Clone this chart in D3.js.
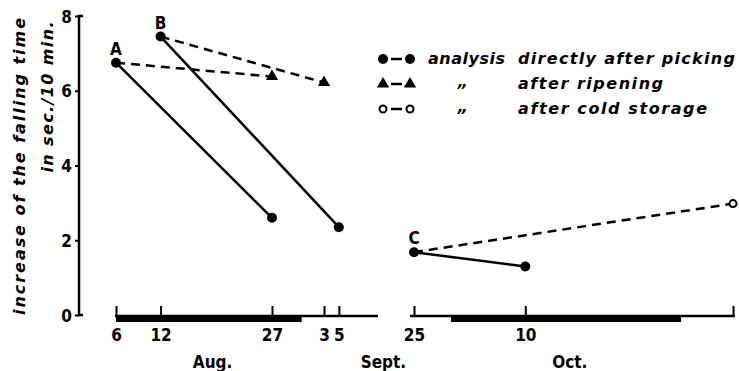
<!DOCTYPE html>
<html>
<head>
<meta charset="utf-8">
<script src="https://cdn.jsdelivr.net/npm/d3@7"></script>
<style>
  body { margin: 0; background: #fff; }
  svg { display: block; }
  text { font-family: "DejaVu Sans", sans-serif; font-weight: bold; fill: #000; }
  .cond { font-family: "DejaVu Sans Condensed", "DejaVu Sans", sans-serif; font-size: 17px; }
  .ital { font-style: italic; font-size: 16px; }
</style>
</head>
<body>
<div id="chart"></div>
<script>
// values (year is arbitrary)
const parse = d3.timeParse('%Y-%m-%d');
const yTicks = [0, 2, 4, 6, 8];
const xTickDatesLeft = ['1970-08-06', '1970-08-12', '1970-08-27', '1970-09-03', '1970-09-05'];
const xTickLabelsLeft = ['6', '12', '27', '3', '5'];
const xTickDatesRight = ['1970-09-25', '1970-10-10', '1970-11-07'];
const xTickLabelsRight = ['25', '10', ''];
const monthLabels = [
  {label: 'Aug.', date: '1970-08-19'},
  {label: 'Sept.', date: '1970-09-11'},
  {label: 'Oct.', date: '1970-10-16'}
];
// thick bars under the time axis
const barPeriods = [['1970-08-06', '1970-08-31'], ['1970-09-30', '1970-10-31']];

// analysis directly after picking (solid, filled dots)
const pickingA = [{date: '1970-08-06', v: 6.75}, {date: '1970-08-27', v: 2.6}];
const pickingB = [{date: '1970-08-12', v: 7.45}, {date: '1970-09-05', v: 2.35}];
const pickingC = [{date: '1970-09-25', v: 1.68}, {date: '1970-10-10', v: 1.3}];
// after ripening (dashed, triangles)
const ripeningA = [{date: '1970-08-06', v: 6.75}, {date: '1970-08-27', v: 6.38}];
const ripeningB = [{date: '1970-08-12', v: 7.45}, {date: '1970-09-03', v: 6.22}];
// after cold storage (dashed, open circle)
const coldC = [{date: '1970-09-25', v: 1.68}, {date: '1970-11-07', v: 2.98}];
const groupLabels = [
  {label: 'A', date: '1970-08-06', v: 6.75},
  {label: 'B', date: '1970-08-12', v: 7.45},
  {label: 'C', date: '1970-09-25', v: 1.68}
];

const width = 739, height = 371;
const svg = d3.select('#chart').append('svg')
  .attr('width', width).attr('height', height);

// broken time axis: two pieces
const breakDate = parse('1970-09-15');
const xL = d3.scaleTime()
  .domain([parse('1970-08-06'), parse('1970-09-10')])
  .range([116, 376]);
const xR = d3.scaleTime()
  .domain([parse('1970-09-25'), parse('1970-11-07')])
  .range([414, 733]);
const x = d => (d <= breakDate ? xL(d) : xR(d));
const y = d3.scaleLinear().domain([0, 8]).range([315, 16]);
const axisY = 316;

// <editor-fold desc="y axis">
const yAxis = d3.axisLeft(y).tickValues(yTicks).tickSize(4).tickPadding(3);
const gy = svg.append('g').attr('transform', 'translate(79,0)').call(yAxis);
gy.attr('font-family', null).attr('font-size', null);
gy.select('.domain').remove();
gy.selectAll('line').attr('stroke', '#000').attr('stroke-width', 2);
gy.selectAll('text').attr('class', 'cond').attr('dy', '0.36em');
svg.append('path')
  .attr('d', `M83,${y(8)}H79V${y(0)}H83`)
  .attr('fill', 'none').attr('stroke', '#000').attr('stroke-width', 2.5);

const yLabel = svg.append('g');
yLabel.append('text').attr('class', 'ital')
  .attr('transform', `translate(25,${(y(8) + 317) / 2}) rotate(-90)`)
  .attr('text-anchor', 'middle')
  .attr('textLength', 297).attr('lengthAdjust', 'spacing')
  .text('increase of the falling time');
yLabel.append('text').attr('class', 'ital')
  .attr('transform', 'translate(53,97) rotate(-90)')
  .attr('text-anchor', 'middle')
  .attr('textLength', 151).attr('lengthAdjust', 'spacing')
  .text('in sec./10 min.');
// </editor-fold>

// <editor-fold desc="x axis">
function drawPiece(scale, dates, labels, x0, x1) {
  const ax = d3.axisBottom(scale)
    .tickValues(dates.map(parse))
    .tickFormat((d, i) => labels[i])
    .tickSizeInner(-10).tickSizeOuter(0).tickPadding(13);
  const g = svg.append('g').attr('transform', `translate(0,${axisY})`).call(ax);
  g.attr('font-family', null).attr('font-size', null);
  g.select('.domain').remove();
  g.selectAll('line').attr('stroke', '#000').attr('stroke-width', 2);
  g.selectAll('text').attr('class', 'cond');
  svg.append('line')
    .attr('x1', x0).attr('x2', x1)
    .attr('y1', axisY).attr('y2', axisY)
    .attr('stroke', '#000').attr('stroke-width', 2.5);
}
drawPiece(xL, xTickDatesLeft, xTickLabelsLeft, xL.range()[0] - 1, 378);
drawPiece(xR, xTickDatesRight, xTickLabelsRight, xR.range()[0] - 4, xR.range()[1] + 2);

svg.append('g').selectAll('rect')
  .data(barPeriods)
  .join('rect')
  .attr('x', d => x(parse(d[0])))
  .attr('width', d => x(parse(d[1])) - x(parse(d[0])))
  .attr('y', axisY)
  .attr('height', 6)
  .attr('fill', '#000');

svg.append('g').selectAll('text')
  .data(monthLabels)
  .join('text').attr('class', 'cond')
  .attr('x', d => x(parse(d.date)))
  .attr('y', 368)
  .attr('text-anchor', 'middle')
  .text(d => d.label);
// </editor-fold>

// <editor-fold desc="series">
const line = d3.line().x(d => x(parse(d.date))).y(d => y(d.v));
const main = svg.append('g');
[pickingA, pickingB, pickingC].forEach(s => {
  main.append('path').attr('d', line(s))
    .attr('fill', 'none').attr('stroke', '#000').attr('stroke-width', 2.5);
});
[ripeningA, ripeningB, coldC].forEach(s => {
  main.append('path').attr('d', line(s))
    .attr('fill', 'none').attr('stroke', '#000').attr('stroke-width', 2.5)
    .attr('stroke-dasharray', '9 6');
});
const tri = d3.symbol().type(d3.symbolTriangle).size(65);
main.selectAll('path.tri')
  .data([ripeningA[1], ripeningB[1]])
  .join('path').attr('class', 'tri')
  .attr('d', tri)
  .attr('transform', d => `translate(${x(parse(d.date))},${y(d.v)})`);
main.selectAll('circle.dot')
  .data([...pickingA, ...pickingB, ...pickingC])
  .join('circle').attr('class', 'dot')
  .attr('cx', d => x(parse(d.date))).attr('cy', d => y(d.v))
  .attr('r', 5).attr('fill', '#000');
main.selectAll('circle.open')
  .data([coldC[1]])
  .join('circle').attr('class', 'open')
  .attr('cx', d => x(parse(d.date))).attr('cy', d => y(d.v))
  .attr('r', 3.5).attr('fill', '#fff').attr('stroke', '#000').attr('stroke-width', 2);

main.selectAll('text.grp')
  .data(groupLabels)
  .join('text').attr('class', 'grp cond')
  .attr('x', d => x(parse(d.date)))
  .attr('y', d => y(d.v) - 8)
  .attr('text-anchor', 'middle')
  .text(d => d.label);
// </editor-fold>

// <editor-fold desc="legend">
const legend = svg.append('g');
const rows = [
  {y: 59, kind: 'dot', first: 'analysis', text: 'directly after picking', w: 217},
  {y: 84, kind: 'tri', first: '\u201E', text: 'after ripening', w: 145},
  {y: 109, kind: 'open', first: '\u201E', text: 'after cold storage', w: 189}
];
rows.forEach(r => {
  legend.append('line')
    .attr('x1', 391).attr('x2', 402).attr('y1', r.y).attr('y2', r.y)
    .attr('stroke', '#000').attr('stroke-width', 2.5);
  [383, 410].forEach(cx => {
    if (r.kind === 'dot') {
      legend.append('circle').attr('cx', cx).attr('cy', r.y).attr('r', 5).attr('fill', '#000');
    } else if (r.kind === 'tri') {
      legend.append('path').attr('d', tri).attr('transform', `translate(${cx},${r.y})`);
    } else {
      legend.append('circle').attr('cx', cx).attr('cy', r.y).attr('r', 3.5)
        .attr('fill', '#fff').attr('stroke', '#000').attr('stroke-width', 2);
    }
  });
  const t1 = legend.append('text').attr('class', 'ital').text(r.first);
  if (r.kind === 'dot') {
    t1.attr('x', 428).attr('y', r.y + 5).attr('textLength', 77).attr('lengthAdjust', 'spacing');
  } else {
    t1.attr('x', 463).attr('y', r.y + 3).attr('text-anchor', 'middle');
  }
  legend.append('text').attr('class', 'ital')
    .attr('x', 518).attr('y', r.y + 5)
    .attr('textLength', r.w).attr('lengthAdjust', 'spacing')
    .text(r.text);
});
// </editor-fold>
</script>
</body>
</html>
